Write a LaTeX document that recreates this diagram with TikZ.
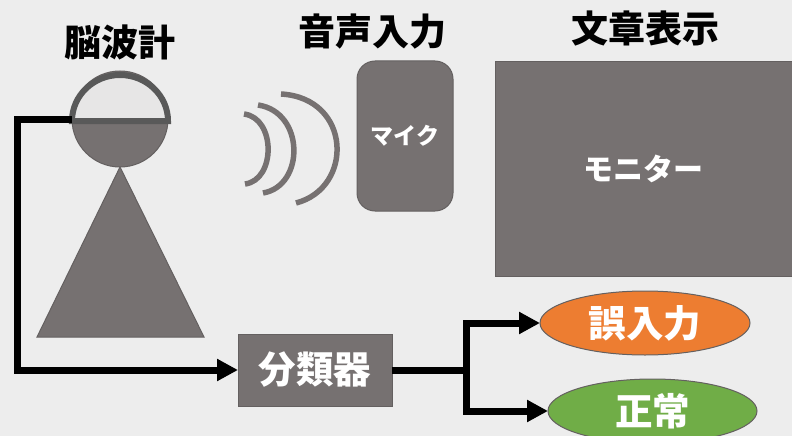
\documentclass[tikz,border=0pt]{standalone}
\usepackage{fontspec}
\setmainfont{Noto Sans CJK JP}
\usetikzlibrary{arrows.meta,shapes.geometric}
\definecolor{bgGray}{HTML}{EDEDED}
\definecolor{boxGray}{HTML}{767171}
\definecolor{rimGray}{HTML}{595959}
\definecolor{capGray}{HTML}{E7E6E6}
\definecolor{errOrange}{HTML}{ED7D31}
\definecolor{okGreen}{HTML}{70AD47}
\tikzset{
  title/.style={font=\fontsize{37}{37}\selectfont\bfseries,text=black,inner sep=0pt},
  box/.style={draw=boxGray!85!black,fill=boxGray,line width=1pt,text=white,inner sep=0pt,outer sep=0pt,font=\fontsize{37.5}{37.5}\selectfont\bfseries},
  result/.style={box,ellipse},
  wave/.style={draw=boxGray,line width=5.5pt},
  wire/.style={draw=black,line width=7pt},
  tip/.style={-{Triangle[length=21pt,width=21pt]}}
}
\begin{document}
\begin{tikzpicture}[x=1pt,y=-1pt]
\useasboundingbox (0,0) rectangle (792,436);
\clip (0,0) rectangle (792,436);
\fill [bgGray] (0,0) rectangle (792,436);
\node [title] (eeg) at (120,42) {脳波計};
\node [title] (voice) at (372,32) {音声入力};
\node [title] (text) at (645,29) {文章表示};
\draw [box] (120,167) -- (204,337) -- (37,337) -- cycle;
\node [box,circle,minimum size=96pt] (head) at (120,119) {};
\draw [draw=rimGray,fill=capGray,line width=6pt] (72,121) arc [start angle=180,end angle=360,x radius=48,y radius=46] -- cycle;
\draw [wave] (244,114) .. controls (276,118) and (276,180) .. (245,184);
\draw [wave] (258,105) .. controls (305,112) and (305,186) .. (263,193);
\draw [wave] (281,94) .. controls (352,98) and (354,188) .. (296,203);
\node [box,rounded corners=18pt,minimum width=96pt,minimum height=150pt,font=\fontsize{23}{23}\selectfont\bfseries] (mic) at (405,136) {マイク};
\node [box,minimum width=297pt,minimum height=214pt,font=\fontsize{30}{30}\selectfont\bfseries] (monitor) at (643.5,169) {モニター};
\node [box,minimum width=154pt,minimum height=72pt] (clf) at (315,370) {分類器};
\node [result,fill=errOrange,minimum width=210pt,minimum height=64pt] (err) at (645,323) {誤入力};
\node [result,fill=okGreen,minimum width=209pt,minimum height=64pt] (ok) at (652.5,411) {正常};
\draw [wire,tip] (head.west) -- ++(-55,0) |- (clf.west);
\draw [wire,tip] (clf.east) -- (466,370) |- (err.west);
\draw [wire,tip] (clf.east) -- (466,370) |- (ok.west);
\end{tikzpicture}
\end{document}
